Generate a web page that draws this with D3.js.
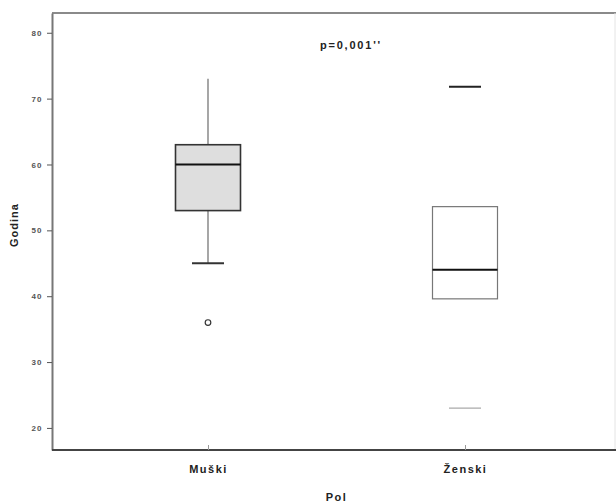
<!DOCTYPE html>
<html>
<head>
<meta charset="utf-8">
<script src="https://cdn.jsdelivr.net/npm/d3@7"></script>
<style>
  body { margin: 0; background: #fff; overflow: hidden; }
  svg { display: block; font-family: "Liberation Sans", Arial, sans-serif; }
</style>
</head>
<body>
<svg id="chart" width="616" height="504"></svg>
<script>
const width = 616;
const height = 504;

// groups and five-number summaries
const groups = ['Muški', 'Ženski'];
const whiskerLow = [45, 23];
const q1 = [53, 39.6];
const median = [60, 44];
const q3 = [63, 53.6];
const whiskerHigh = [73, 71.8];
const outliers = [[36], []];
const boxFill = ['#dedede', '#ffffff'];
const yTicks = [20, 30, 40, 50, 60, 70, 80];

const margin = { top: 13, right: -5, bottom: 54, left: 52 };

const svg = d3.select('#chart');

const x = d3.scalePoint()
    .domain(groups)
    .range([margin.left, width - margin.right])
    .padding(0.607);

const y = d3.scaleLinear()
    .domain([16.65, 83])
    .range([height - margin.bottom, margin.top]);

// frame top + right
svg.append('line')
    .attr('x1', margin.left).attr('x2', width)
    .attr('y1', margin.top).attr('y2', margin.top)
    .style('stroke', '#8a8a8a').style('stroke-width', 2);
svg.append('line')
    .attr('x1', width - 1).attr('x2', width - 1)
    .attr('y1', margin.top).attr('y2', height - margin.bottom)
    .style('stroke', '#e4e4e4').style('stroke-width', 1);

// y axis
const yAxis = svg.append('g')
    .attr('transform', `translate(${margin.left},0)`)
    .call(d3.axisLeft(y).tickValues(yTicks).tickSize(5).tickSizeOuter(0));
yAxis.select('.domain').style('stroke', '#777').style('stroke-width', 2);
yAxis.selectAll('.tick line').style('stroke', '#555');
yAxis.selectAll('.tick text')
    .attr('x', -15)
    .attr('text-anchor', 'middle')
    .style('font-size', '8px')
    .style('font-weight', 'bold')
    .style('letter-spacing', '1px')
    .style('fill', '#555');

// x axis
const xAxis = svg.append('g')
    .attr('transform', `translate(0,${height - margin.bottom})`)
    .call(d3.axisBottom(x).tickSize(5).tickSizeOuter(0));
xAxis.select('.domain')
    .attr('d', `M${margin.left},0H${width}`)
    .style('stroke', '#444').style('stroke-width', 2);
xAxis.selectAll('.tick line').attr('y2', -5).style('stroke', '#999');
xAxis.selectAll('.tick text')
    .attr('y', 15)
    .style('font-size', '11px')
    .style('font-weight', 'bold')
    .style('letter-spacing', '1.5px')
    .style('fill', '#222');

// boxes
const boxW = 65;
const capW = 32;

groups.forEach((g, i) => {
    const cx = x(g);
    const grp = svg.append('g');

    if (i === 0) {
        grp.append('line')
            .attr('x1', cx).attr('x2', cx)
            .attr('y1', y(whiskerHigh[i])).attr('y2', y(q3[i]))
            .style('stroke', '#777').style('stroke-width', 1.3);
        grp.append('line')
            .attr('x1', cx).attr('x2', cx)
            .attr('y1', y(q1[i])).attr('y2', y(whiskerLow[i]))
            .style('stroke', '#777').style('stroke-width', 1.3);
        grp.append('line')
            .attr('x1', cx - capW / 2).attr('x2', cx + capW / 2)
            .attr('y1', y(whiskerLow[i])).attr('y2', y(whiskerLow[i]))
            .style('stroke', '#333').style('stroke-width', 2);
    } else {
        grp.append('line')
            .attr('x1', cx - capW / 2).attr('x2', cx + capW / 2)
            .attr('y1', y(whiskerHigh[i])).attr('y2', y(whiskerHigh[i]))
            .style('stroke', '#222').style('stroke-width', 2);
        grp.append('line')
            .attr('x1', cx - capW / 2).attr('x2', cx + capW / 2)
            .attr('y1', y(whiskerLow[i])).attr('y2', y(whiskerLow[i]))
            .style('stroke', '#aaa').style('stroke-width', 1.2);
    }

    grp.append('rect')
        .attr('x', cx - boxW / 2)
        .attr('y', y(q3[i]))
        .attr('width', boxW)
        .attr('height', y(q1[i]) - y(q3[i]))
        .style('fill', boxFill[i])
        .style('stroke', i === 0 ? '#333' : '#777')
        .style('stroke-width', i === 0 ? 1.6 : 1.2);

    grp.append('line')
        .attr('x1', cx - boxW / 2).attr('x2', cx + boxW / 2)
        .attr('y1', y(median[i])).attr('y2', y(median[i]))
        .style('stroke', '#111').style('stroke-width', 2);

    outliers[i].forEach(v => {
        grp.append('circle')
            .attr('cx', cx).attr('cy', y(v)).attr('r', 2.8)
            .style('fill', 'none').style('stroke', '#333').style('stroke-width', 1.2);
    });
});

// p-value note
svg.append('text')
    .attr('x', 351).attr('y', 49)
    .attr('text-anchor', 'middle')
    .style('font-size', '11px')
    .style('font-weight', 'bold')
    .style('letter-spacing', '1.8px')
    .style('fill', '#222')
    .text("p=0,001''");

// axis titles
svg.append('text')
    .attr('transform', `translate(18,225) rotate(-90)`)
    .attr('text-anchor', 'middle')
    .style('font-size', '11px')
    .style('font-weight', 'bold')
    .style('letter-spacing', '1px')
    .style('fill', '#222')
    .text('Godina');

svg.append('text')
    .attr('x', (margin.left + width - margin.right) / 2).attr('y', 501)
    .attr('text-anchor', 'middle')
    .style('font-size', '11px')
    .style('font-weight', 'bold')
    .style('letter-spacing', '1.5px')
    .style('fill', '#222')
    .text('Pol');
</script>
</body>
</html>
